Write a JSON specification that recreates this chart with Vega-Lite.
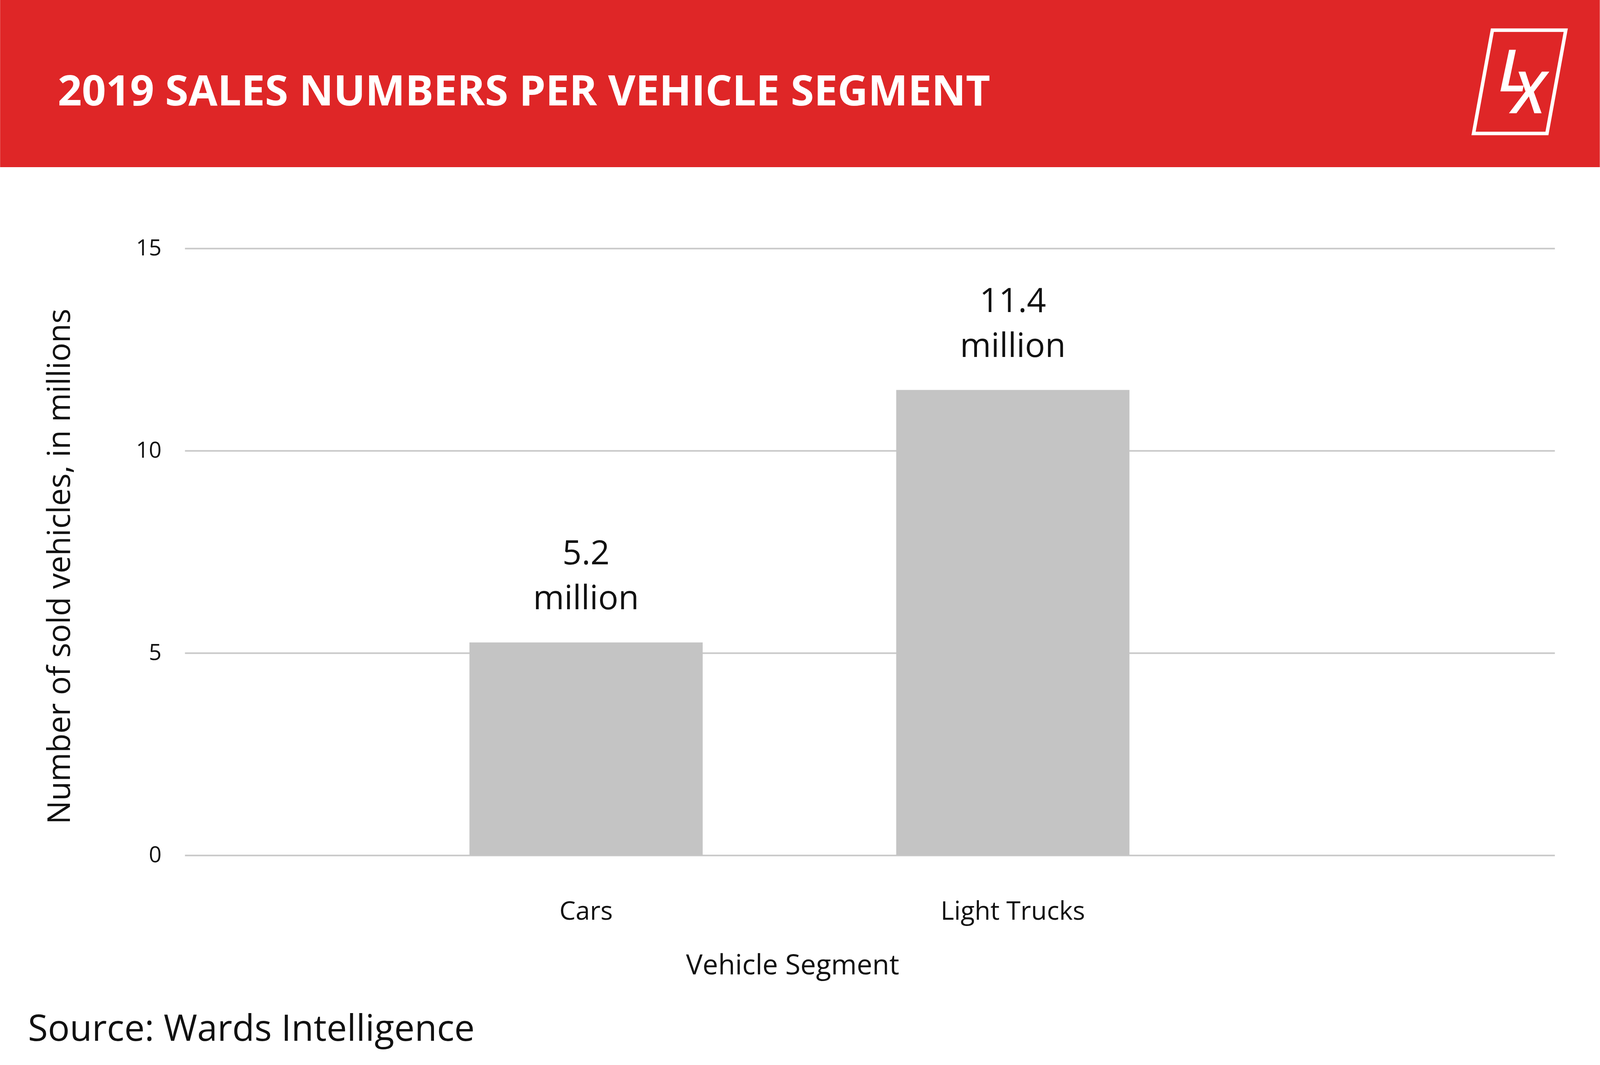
{
  "$schema": "https://vega.github.io/schema/vega-lite/v6.json",
  "width": 4096,
  "height": 2727,
  "autosize": {"type": "fit", "contains": "padding"},
  "padding": 0,
  "background": "white",
  "config": {"view": {"stroke": null}, "font": "Open Sans"},
  "datasets": {
    "sales": [
      {"segment": "Cars", "sold": 5.26, "label": "5.2\nmillion"},
      {"segment": "Light Trucks", "sold": 11.5, "label": "11.4\nmillion"}
    ],
    "header": [{"title": "2019 SALES NUMBERS PER VEHICLE SEGMENT"}],
    "source": [{"note": "Source: Wards Intelligence"}],
    "logo": [{"brand": "LX"}]
  },
  "layer": [
    {
      "data": {"name": "header"},
      "mark": {"type": "rect", "opacity": 0, "x": -472.7, "x2": {"expr": "width + 115.5"}, "y": -636, "y2": {"expr": "height + 537"}},
      "encoding": {}
    },
    {
      "data": {"name": "header"},
      "mark": {"type": "rect", "color": "#df2627", "x": -472.7, "x2": {"expr": "width + 115.5"}, "y": -636, "y2": -208},
      "encoding": {}
    },
    {
      "data": {"name": "header"},
      "mark": {"type": "text", "align": "left", "baseline": "alphabetic", "fontSize": 108, "fontWeight": "bold", "color": "white", "x": -325.2, "y": -366},
      "encoding": {"text": {"field": "title"}}
    },
    {
      "data": {"name": "logo"},
      "mark": {"type": "point", "shape": "M -0.592 -1.12 L 1 -1.12 L 0.592 1.12 L -1 1.12 Z", "size": 55700, "filled": false, "stroke": "white", "strokeWidth": 9, "opacity": 1, "x": 3417.3, "y": -426.5},
      "encoding": {}
    },
    {
      "data": {"name": "logo"},
      "mark": {"type": "text", "text": "L", "align": "left", "baseline": "alphabetic", "fontSize": 148, "fontStyle": "italic", "fontWeight": 600, "color": "white", "x": 3363, "y": -402},
      "encoding": {}
    },
    {
      "data": {"name": "logo"},
      "mark": {"type": "text", "text": "X", "align": "left", "baseline": "alphabetic", "fontSize": 148, "fontStyle": "italic", "fontWeight": 600, "color": "white", "x": 3398, "y": -346},
      "encoding": {}
    },
    {
      "data": {"name": "sales"},
      "mark": {"type": "bar", "color": "#c4c4c4"},
      "encoding": {
        "x": {
          "field": "segment", "type": "nominal", "sort": null,
          "scale": {"paddingInner": 0.4535, "paddingOuter": 0.8317, "align": 0.401},
          "axis": {
            "title": "Vehicle Segment", "labelAngle": 0, "domain": false, "ticks": false, "tickSize": 0,
            "labelFontSize": 66, "labelColor": "#111111", "labelPadding": 164, "labelBaseline": "alphabetic", "labelLimit": 0,
            "titleFontSize": 71, "titleFontWeight": "normal", "titleColor": "#111111",
            "titleX": 1555.6, "titleY": 304, "titleBaseline": "alphabetic", "titleAlign": "center"
          }
        },
        "y": {
          "field": "sold", "type": "quantitative",
          "scale": {"domain": [0, 15], "nice": false},
          "axis": {
            "title": "Number of sold vehicles, in millions", "values": [0, 5, 10, 15], "format": "d",
            "domain": false, "ticks": false, "tickSize": 0,
            "grid": true, "gridColor": "#c8c8c8", "gridWidth": 4,
            "labelFontSize": 57, "labelColor": "#111111", "labelPadding": 60,
            "titleFontSize": 80, "titleFontWeight": "normal", "titleColor": "#111111",
            "titleX": -294.9, "titleY": 814, "titleBaseline": "alphabetic", "titleAlign": "center", "titleAngle": -90
          }
        }
      }
    },
    {
      "data": {"name": "sales"},
      "mark": {"type": "text", "lineBreak": "\n", "fontSize": 86, "lineHeight": 115, "baseline": "alphabetic", "dy": -200, "color": "#111111"},
      "encoding": {
        "x": {"field": "segment", "type": "nominal", "sort": null},
        "y": {"field": "sold", "type": "quantitative"},
        "text": {"field": "label"}
      }
    },
    {
      "data": {"name": "source"},
      "mark": {"type": "text", "align": "left", "baseline": "alphabetic", "fontSize": 93, "color": "#111111", "x": -401.4, "y": {"expr": "height + 475"}},
      "encoding": {"text": {"field": "note"}}
    }
  ]
}
